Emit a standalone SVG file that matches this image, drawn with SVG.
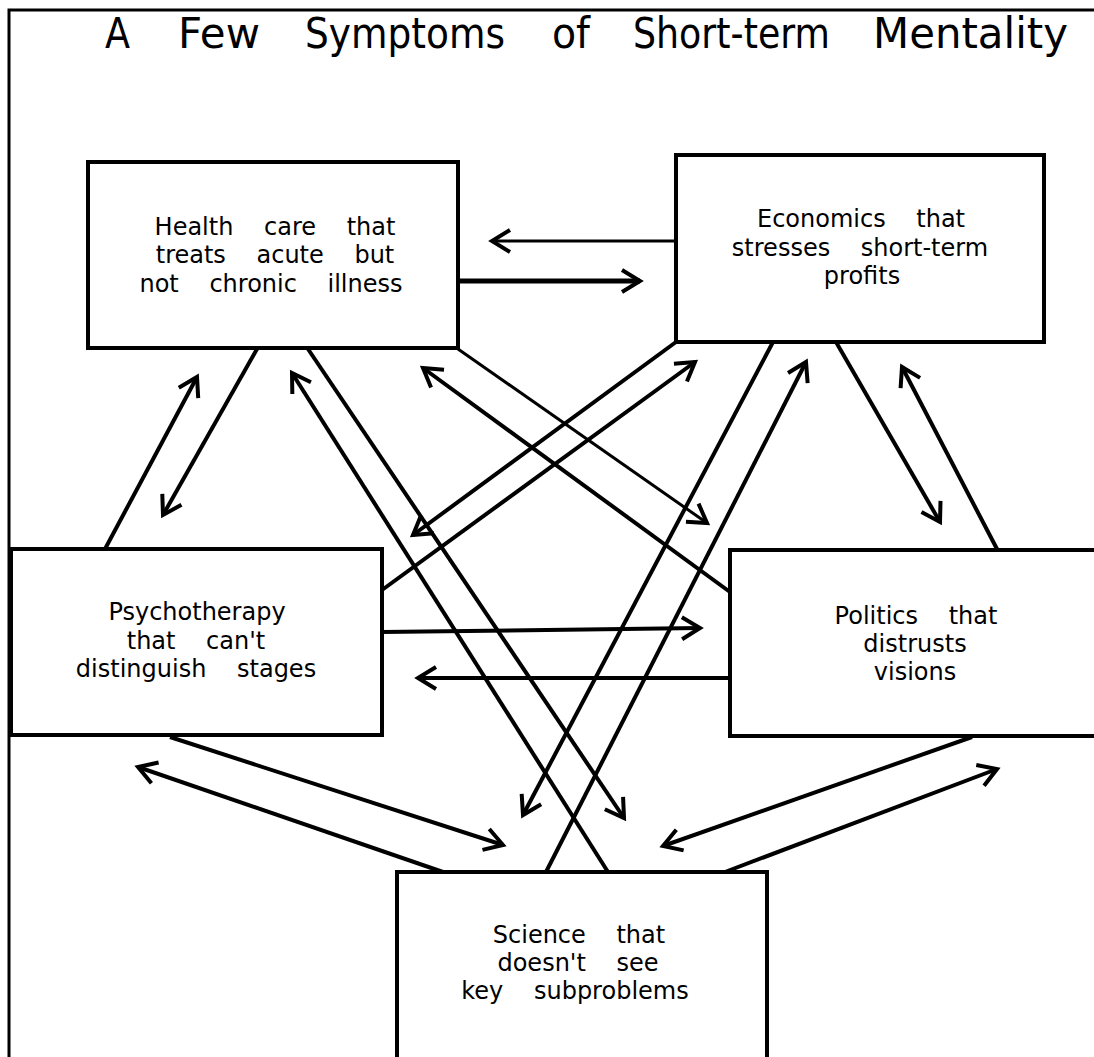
<svg xmlns="http://www.w3.org/2000/svg" width="1094" height="1057" viewBox="0 0 1094 1057">
<defs>
<style>
.box{fill:#fff;stroke:#000;stroke-width:4}
.lbl{font-family:"DejaVu Sans",sans-serif;font-size:24px;fill:#000;text-anchor:middle;word-spacing:23px}
.title{font-family:"DejaVu Sans",sans-serif;font-size:42px;fill:#000}
.c{stroke:#000;stroke-width:4;fill:none;marker-end:url(#ah)}
</style>
<marker id="ah" viewBox="-22 -14 26 28" markerWidth="26" markerHeight="28" refX="0" refY="0" orient="auto" markerUnits="userSpaceOnUse">
<path d="M-18,-11 L0,0 L-18,11" fill="none" stroke="#000" stroke-width="4"/>
</marker>
</defs>
<rect width="1094" height="1057" fill="#fff"/>
<g id="frame">
<path d="M9,1057 L9,10 L1094,10" fill="none" stroke="#000" stroke-width="3"/>
</g>
<g id="title" class="title">
<text x="105" y="48" textLength="25" lengthAdjust="spacingAndGlyphs">A</text>
<text x="178" y="48" textLength="82" lengthAdjust="spacingAndGlyphs">Few</text>
<text x="305" y="48" textLength="200" lengthAdjust="spacingAndGlyphs">Symptoms</text>
<text x="552" y="48" textLength="38" lengthAdjust="spacingAndGlyphs">of</text>
<text x="633" y="48" textLength="197" lengthAdjust="spacingAndGlyphs">Short-term</text>
<text x="873" y="48" textLength="195" lengthAdjust="spacingAndGlyphs">Mentality</text>
</g>
<g id="connectors">
<line class="c" x1="676" y1="241" x2="492" y2="241" style="stroke-width:3"/>
<line class="c" x1="458" y1="281" x2="640" y2="281" style="stroke-width:5"/>
<line class="c" x1="257" y1="349" x2="163" y2="515"/>
<line class="c" x1="105" y1="549" x2="197" y2="377"/>
<line class="c" x1="308" y1="349" x2="624" y2="818"/>
<line class="c" x1="608" y1="872" x2="292" y2="373"/>
<line class="c" x1="458" y1="349" x2="707" y2="523" style="stroke-width:3"/>
<line class="c" x1="730" y1="592" x2="423" y2="368"/>
<line class="c" x1="676" y1="342" x2="413" y2="535"/>
<line class="c" x1="382" y1="590" x2="695" y2="362"/>
<line class="c" x1="773" y1="342" x2="523" y2="815"/>
<line class="c" x1="546" y1="872" x2="806" y2="362"/>
<line class="c" x1="836" y1="342" x2="940" y2="522"/>
<line class="c" x1="997" y1="549" x2="902" y2="367"/>
<line class="c" x1="382" y1="632" x2="700" y2="628"/>
<line class="c" x1="730" y1="678" x2="418" y2="678"/>
<line class="c" x1="170" y1="737" x2="503" y2="845"/>
<line class="c" x1="443" y1="872" x2="138" y2="767"/>
<line class="c" x1="972" y1="737" x2="663" y2="846"/>
<line class="c" x1="725" y1="872" x2="997" y2="769"/>
</g>
<g id="health">
<rect class="box" x="88" y="162" width="370" height="186"/>
<text class="lbl" x="275" y="235">Health care that</text>
<text class="lbl" x="275" y="263">treats acute but</text>
<text class="lbl" x="271" y="292">not chronic illness</text>
</g>
<g id="economics">
<rect class="box" x="676" y="155" width="368" height="187"/>
<text class="lbl" x="861" y="227">Economics that</text>
<text class="lbl" x="860" y="256">stresses short-term</text>
<text class="lbl" x="862" y="284">profits</text>
</g>
<g id="psychotherapy">
<rect class="box" x="11" y="549" width="371" height="186"/>
<text class="lbl" x="197" y="620">Psychotherapy</text>
<text class="lbl" x="196" y="649">that can't</text>
<text class="lbl" x="196" y="677">distinguish stages</text>
</g>
<g id="politics">
<rect class="box" x="730" y="550" width="380" height="186"/>
<text class="lbl" x="916" y="624">Politics that</text>
<text class="lbl" x="915" y="652">distrusts</text>
<text class="lbl" x="915" y="680">visions</text>
</g>
<g id="science">
<rect class="box" x="397" y="872" width="370" height="200"/>
<text class="lbl" x="579" y="943">Science that</text>
<text class="lbl" x="578" y="971">doesn't see</text>
<text class="lbl" x="575" y="999">key subproblems</text>
</g>
</svg>
